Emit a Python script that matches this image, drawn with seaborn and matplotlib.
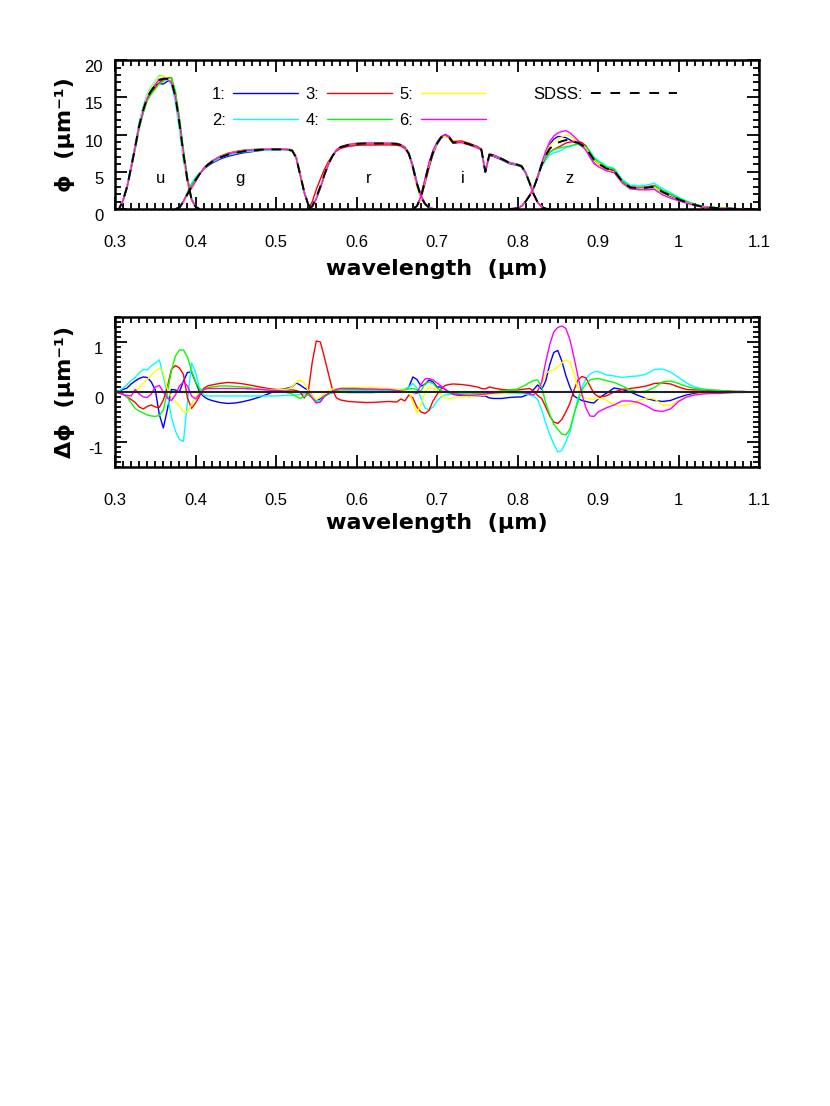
import numpy as np
import pandas as pd
import matplotlib
matplotlib.use("Agg")
import matplotlib.pyplot as plt
import matplotlib.transforms as mtransforms
from matplotlib.lines import Line2D
from matplotlib.ticker import MultipleLocator, FuncFormatter
import seaborn as sns

# sampling wavelengths (micron), shared by every curve
wl = [
    0.300, 0.305, 0.310, 0.315, 0.320, 0.325, 0.330, 0.335, 0.340, 0.345, 0.350, 0.355, 0.360,
    0.365, 0.370, 0.375, 0.380, 0.385, 0.390, 0.395, 0.400, 0.405, 0.410, 0.415, 0.420,
    0.43, 0.44, 0.45, 0.46, 0.47, 0.48, 0.49, 0.50, 0.51,
    0.515, 0.520, 0.525, 0.530, 0.535, 0.540, 0.545, 0.550, 0.555, 0.560, 0.565, 0.570, 0.575, 0.580,
    0.59, 0.60, 0.61, 0.62, 0.63, 0.64, 0.65,
    0.655, 0.660, 0.665, 0.670, 0.675, 0.680, 0.685, 0.690, 0.695, 0.700, 0.705, 0.710, 0.715,
    0.72, 0.73, 0.74, 0.75, 0.755, 0.76, 0.765, 0.77, 0.78, 0.79, 0.80,
    0.805, 0.810, 0.815, 0.820, 0.825, 0.830, 0.835, 0.840, 0.845, 0.850, 0.855, 0.860, 0.865,
    0.870, 0.875, 0.880, 0.885, 0.890, 0.895, 0.900, 0.905, 0.910,
    0.92, 0.93, 0.94, 0.95, 0.96, 0.97, 0.98, 0.99, 1.00, 1.01, 1.02, 1.03, 1.04, 1.05, 1.06,
    1.07, 1.08, 1.09, 1.10,
]

# SDSS filter curves (phi, 1/micron), each over its own wavelength span
band_names = ["u", "g", "r", "i", "z"]
band_lo = [0.300, 0.375, 0.540, 0.670, 0.790]
band_hi = [0.405, 0.550, 0.700, 0.840, 1.100]
sdss_u = [0, 0, 1.2, 3.0, 5.6, 8.3, 11.2, 13.3, 15.0, 15.9, 16.6, 17.3, 17.5, 17.5, 17.2,
          15.1, 11.5, 7.3, 3.8, 1.3, 0.3, 0.0]
sdss_g = [0.0, 0.2, 1.0, 2.0, 3.0, 3.9, 4.7, 5.4, 5.9, 6.3,
          6.9, 7.3, 7.55, 7.75, 7.85, 7.95, 8.0, 8.0, 8.0,
          7.95, 7.85, 6.9, 4.6, 2.3, 0.6, 0.0, 0.0]
sdss_r = [0.0, 0.4, 1.6, 3.0, 4.6, 6.0, 7.1, 7.9, 8.3,
          8.6, 8.75, 8.8, 8.8, 8.8, 8.8, 8.75,
          8.6, 8.3, 7.4, 5.6, 3.4, 1.7, 0.7, 0.2, 0.05, 0.0]
sdss_i = [0.0, 0.4, 1.6, 3.8, 5.9, 7.6, 8.8, 9.6, 9.9, 9.6,
          8.9, 9.0, 8.7, 8.3, 8.0, 5.0, 7.3, 7.2, 6.75, 6.2, 5.95,
          5.75, 4.9, 3.5, 2.0, 0.9, 0.3, 0.05, 0.0]
sdss_z = [0.0, 0.1,
          0.4, 1.0, 1.8, 2.8, 4.3, 6.0, 7.2, 8.1, 8.6, 8.9, 9.1, 9.25, 9.2, 9.05, 8.9, 8.6,
          8.2, 7.4, 6.6, 6.1, 5.8, 5.45,
          5.15, 3.7, 2.9, 2.8, 2.85, 3.0, 2.3, 1.8, 1.3, 0.9, 0.55, 0.3, 0.2, 0.12, 0.07,
          0.04, 0.02, 0.01, 0.0]
band_label_x = [0.356, 0.455, 0.615, 0.732, 0.865]

# differences (model - SDSS) on the wl grid
d1 = [0, 0.02, 0.05, 0.08, 0.16, 0.22, 0.27, 0.3, 0.29, 0.2, 0.04, -0.45, -0.72,
      -0.35, 0.05, 0.04, 0.0, 0.22, 0.39, 0.4, 0.2, 0.0, -0.09, -0.14, -0.17,
      -0.21, -0.23, -0.22, -0.19, -0.15, -0.1, -0.04, 0.03, 0.06,
      0.08, 0.1, 0.18, 0.14, 0.08, 0.04, -0.08, -0.18, -0.14, -0.08, -0.04, -0.01, 0.0, 0.0,
      -0.01, -0.01, -0.01, -0.01, 0.0, 0.0, 0.0,
      0.0, 0.03, 0.1, 0.3, 0.25, 0.12, 0.15, 0.24, 0.2, 0.1, 0.1, 0.05, 0.0,
      -0.05, -0.07, -0.09, -0.08, -0.08, -0.08, -0.12, -0.13, -0.13, -0.11, -0.1,
      -0.1, -0.07, -0.03, 0.05, 0.14, 0.05, 0.22, 0.55, 0.79, 0.83, 0.62, 0.33, 0.1,
      -0.08, -0.13, -0.17, -0.19, -0.21, -0.22, -0.14, -0.08, -0.03,
      0.08, 0.05, 0.0, -0.07, -0.13, -0.17, -0.19, -0.17, -0.11, -0.06, -0.03, -0.01, 0, 0, 0,
      0, 0, 0, 0]
d2 = [0, 0.02, 0.08, 0.15, 0.23, 0.29, 0.38, 0.45, 0.44, 0.52, 0.58, 0.64, 0.31,
      -0.05, -0.5, -0.78, -0.95, -0.99, -0.2, 0.58, 0.4, 0.06, -0.06, -0.08, -0.08,
      -0.08, -0.08, -0.08, -0.08, -0.08, -0.08, -0.08, -0.08, -0.07,
      -0.07, -0.07, -0.06, -0.05, -0.04, -0.03, -0.1, -0.18, -0.17, -0.08, -0.04, -0.02, 0.0, 0.01,
      0.02, 0.03, 0.03, 0.03, 0.03, 0.03, 0.03,
      0.03, 0.05, 0.1, 0.17, 0.08, -0.12, -0.32, -0.36, -0.3, -0.18, -0.1, -0.06, -0.05,
      -0.03, -0.02, -0.01, -0.01, 0.0, -0.02, -0.02, -0.02, -0.03, -0.03, -0.03,
      -0.03, -0.04, -0.06, -0.08, -0.15, -0.36, -0.62, -0.85, -1.04, -1.2, -1.17, -1.0, -0.8,
      -0.46, -0.13, 0.1, 0.27, 0.36, 0.4, 0.41, 0.38, 0.34,
      0.32, 0.29, 0.31, 0.32, 0.36, 0.45, 0.46, 0.4, 0.29, 0.18, 0.1, 0.06, 0.04, 0.02, 0.01,
      0.01, 0, 0, 0]
d3 = [0, -0.02, -0.05, -0.1, -0.15, -0.21, -0.3, -0.34, -0.29, -0.26, -0.3, -0.31, -0.16,
      0.1, 0.45, 0.53, 0.48, 0.35, -0.12, -0.33, -0.22, -0.08, 0.07, 0.12, 0.14,
      0.17, 0.19, 0.18, 0.16, 0.13, 0.1, 0.07, 0.05, 0.05,
      0.04, 0.04, 0.03, 0.0, -0.12, 0.0, 0.6, 1.02, 1.0, 0.7, 0.37, 0.05, -0.12, -0.16,
      -0.19, -0.2, -0.21, -0.21, -0.2, -0.19, -0.2,
      -0.14, -0.18, -0.06, -0.12, -0.3, -0.4, -0.43, -0.37, -0.18, -0.05, 0.06, 0.13, 0.15,
      0.16, 0.15, 0.13, 0.1, 0.07, 0.06, 0.1, 0.08, 0.05, 0.04, 0.04,
      0.05, 0.06, 0.07, 0.02, -0.07, -0.13, -0.3, -0.48, -0.6, -0.63, -0.55, -0.4, -0.23,
      0.03, 0.24, 0.31, 0.28, 0.12, -0.03, -0.09, -0.09, -0.08,
      0.0, 0.05, 0.07, 0.09, 0.12, 0.17, 0.18, 0.16, 0.1, 0.05, 0.04, 0.04, 0.03, 0.03, 0.02,
      0.01, 0.01, 0, 0]
d4 = [0, -0.01, -0.04, -0.1, -0.22, -0.33, -0.38, -0.42, -0.46, -0.48, -0.49, -0.47, -0.36,
      0.0, 0.42, 0.72, 0.84, 0.84, 0.7, 0.42, 0.2, 0.06, 0.04, 0.08, 0.1,
      0.12, 0.12, 0.11, 0.1, 0.08, 0.06, 0.04, 0.02, 0.0,
      -0.02, -0.04, -0.09, -0.13, -0.09, -0.06, -0.12, -0.21, -0.2, -0.1, -0.04, 0.0, 0.03, 0.04,
      0.05, 0.05, 0.05, 0.05, 0.05, 0.05, 0.05,
      0.05, 0.05, 0.06, 0.07, 0.04, 0.02, 0.17, 0.2, 0.17, 0.08, 0.03, 0.0, -0.02,
      -0.03, -0.04, -0.04, -0.03, -0.02, -0.02, -0.01, 0.0, 0.02, 0.04, 0.06,
      0.1, 0.14, 0.19, 0.23, 0.24, 0.1, -0.22, -0.45, -0.64, -0.75, -0.84, -0.86, -0.75,
      -0.45, -0.2, 0.04, 0.16, 0.24, 0.26, 0.27, 0.25, 0.23,
      0.19, 0.12, 0.04, 0.0, 0.02, 0.09, 0.2, 0.22, 0.17, 0.11, 0.07, 0.05, 0.04, 0.03, 0.02,
      0.01, 0.01, 0, 0]
d5 = [0, 0, 0.0, 0.0, 0.01, 0.03, 0.08, 0.17, 0.25, 0.34, 0.42, 0.47, 0.4,
      0.06, -0.1, -0.19, -0.28, -0.4, -0.4, -0.26, -0.08, 0.0, 0.04, 0.05, 0.06,
      0.07, 0.07, 0.07, 0.07, 0.06, 0.05, 0.05, 0.04, 0.05,
      0.06, 0.1, 0.19, 0.24, 0.18, 0.03, -0.08, -0.15, -0.1, -0.02, 0.03, 0.06, 0.07, 0.08,
      0.09, 0.09, 0.09, 0.09, 0.08, 0.07, 0.05,
      0.04, 0.03, 0.0, -0.2, -0.42, -0.25, 0.0, 0.09, 0.07, 0.03, -0.05, -0.12, -0.13,
      -0.11, -0.1, -0.09, -0.08, -0.07, -0.06, -0.05, -0.04, -0.03, -0.02, -0.01,
      0.0, 0.0, 0.0, 0.0, 0.04, 0.17, 0.38, 0.42, 0.44, 0.5, 0.58, 0.64, 0.6,
      0.38, 0.08, -0.09, -0.13, -0.14, -0.15, -0.13, -0.13, -0.16,
      -0.26, -0.28, -0.24, -0.17, -0.12, -0.14, -0.26, -0.27, -0.17, -0.09, -0.05, -0.03, -0.02,
      -0.01, -0.01, 0, 0, 0, 0]
d6 = [0, -0.02, -0.05, -0.07, -0.08, 0.05, -0.04, -0.1, -0.11, -0.04, 0.1, 0.13, 0.0,
      -0.12, -0.17, -0.06, 0.12, 0.2, 0.12, -0.08, -0.14, -0.04, 0.05, 0.07, 0.07,
      0.07, 0.07, 0.07, 0.07, 0.06, 0.05, 0.04, 0.03, 0.02,
      0.01, 0.0, 0.0, 0.0, 0.0, -0.02, -0.12, -0.22, -0.2, -0.08, -0.03, 0.02, 0.05, 0.07,
      0.07, 0.07, 0.06, 0.06, 0.05, 0.05, 0.03,
      0.02, 0.01, 0.0, -0.01, -0.03, 0.15, 0.26, 0.27, 0.24, 0.18, 0.12, 0.05, 0.0,
      -0.04, -0.06, -0.07, -0.06, -0.05, -0.04, -0.03, -0.02, -0.01, 0.0, 0.0,
      0.0, -0.02, -0.04, -0.06, 0.02, 0.2, 0.6, 0.95, 1.2, 1.29, 1.32, 1.27, 1.05,
      0.7, 0.32, -0.05, -0.32, -0.48, -0.49, -0.4, -0.36, -0.32,
      -0.26, -0.18, -0.18, -0.21, -0.28, -0.37, -0.39, -0.34, -0.19, -0.1, -0.06, -0.04, -0.03,
      -0.03, -0.02, -0.01, -0.01, 0, 0]

models = ["1", "2", "3", "4", "5", "6"]
model_colors = ["#0000ff", "#00ffff", "#ff0000", "#00ff00", "#ffff00", "#ff00ff"]

# ---- build long tables ----
wl_arr = np.array(wl)
dphi = np.array([d1, d2, d3, d4, d5, d6])
assert dphi.shape == (6, len(wl))
band_phi = [sdss_u, sdss_g, sdss_r, sdss_i, sdss_z]

band_idx = []
total = np.zeros(len(wl))
for lo, hi, vals in zip(band_lo, band_hi, band_phi):
    idx = np.where((wl_arr > lo - 1e-6) & (wl_arr < hi + 1e-6))[0]
    assert len(idx) == len(vals), (lo, len(idx), len(vals))
    band_idx.append(idx)
    total[idx] += np.array(vals)

sdss_rows, model_rows = [], []
for name, idx, vals in zip(band_names, band_idx, band_phi):
    vals = np.array(vals, dtype=float)
    # split the difference between overlapping bands by their share of the total
    share = np.divide(vals, total[idx], out=np.zeros_like(vals), where=total[idx] > 0)
    sdss_rows.append(pd.DataFrame({"wl": wl_arr[idx], "phi": vals, "band": name}))
    for k, m in enumerate(models):
        model_rows.append(pd.DataFrame({"wl": wl_arr[idx], "phi": vals + dphi[k, idx] * share,
                                        "band": name, "model": m}))
sdss_df = pd.concat(sdss_rows, ignore_index=True)
top_df = pd.concat(model_rows, ignore_index=True)
diff_df = pd.concat([pd.DataFrame({"wl": wl_arr, "dphi": dphi[k], "model": m})
                     for k, m in enumerate(models)], ignore_index=True)

# ---- style ----
sns.set_theme(style="ticks")
plt.rcParams["font.family"] = ["Liberation Sans", "DejaVu Sans"]
plt.rcParams["axes.unicode_minus"] = False
plt.rcParams["text.color"] = "black"
plt.rcParams["axes.labelcolor"] = "black"
plt.rcParams["xtick.color"] = "black"
plt.rcParams["ytick.color"] = "black"
palette = dict(zip(models, model_colors))
label_kw = dict(fontfamily="DejaVu Sans", fontweight="bold", fontsize=16, color="black")

fig = plt.figure(figsize=(8.3, 11.06), dpi=100, facecolor="white")
ax1 = fig.add_axes([0.1386, 0.8110, 0.7759, 0.1347])
ax2 = fig.add_axes([0.1386, 0.5778, 0.7759, 0.1356])

# top panel: filter curves
sns.lineplot(data=top_df, x="wl", y="phi", hue="model", units="band", estimator=None,
             palette=palette, hue_order=models, lw=1.0, sort=False, legend=False, ax=ax1)
n0 = len(ax1.lines)
sns.lineplot(data=sdss_df, x="wl", y="phi", units="band", estimator=None, color="black",
             lw=1.4, sort=False, legend=False, ax=ax1)
for line in ax1.lines[n0:]:
    line.set_linestyle((0, (5, 4)))

for name, x in zip(band_names, band_label_x):
    ax1.text(x, 3.45, name, ha="center", va="baseline", fontsize=12, color="black")

# bottom panel: differences
sns.lineplot(data=diff_df, x="wl", y="dphi", hue="model", estimator=None, palette=palette,
             hue_order=models, lw=1.0, sort=False, legend=False, ax=ax2)
ax2.axhline(0, color="#222222", lw=1.5, zorder=5)

ax1.set_ylim(0, 20)
ax1.set_yticks([0, 5, 10, 15, 20])
ax1.yaxis.set_minor_locator(MultipleLocator(1))
ax2.set_ylim(-1.5, 1.5)
ax2.set_yticks([-1, 0, 1])
ax2.yaxis.set_minor_locator(MultipleLocator(0.1))

for ax in (ax1, ax2):
    ax.set_xlim(0.3, 1.1)
    ax.set_xticks([0.3, 0.4, 0.5, 0.6, 0.7, 0.8, 0.9, 1.0, 1.1])
    ax.xaxis.set_minor_locator(MultipleLocator(0.01))
    ax.xaxis.set_major_formatter(FuncFormatter(lambda v, p: f"{v:g}"))
    ax.tick_params(which="both", direction="in", top=True, right=True, width=1.3,
                   colors="black", labelsize=12)
    ax.tick_params(which="major", length=8.6)
    ax.tick_params(which="minor", length=4.3)
    ax.tick_params(axis="x", pad=18.5)
    ax.tick_params(axis="y", pad=8.5)
    for sp in ax.spines.values():
        sp.set_linewidth(1.8)
        sp.set_color("black")
    offset = mtransforms.ScaledTranslation(0, -6 / 100, fig.dpi_scale_trans)
    for tick in ax.yaxis.get_major_ticks():
        tick.label1.set_transform(tick.label1.get_transform() + offset)

ax1.set_xlabel("wavelength  (μm)", va="center", **label_kw)
ax1.xaxis.set_label_coords(0.5, -0.40)
ax1.set_ylabel("ϕ  (μm⁻¹)", va="center", **label_kw)
ax1.yaxis.set_label_coords(-0.078, 0.5)
ax2.set_xlabel("wavelength  (μm)", va="center", **label_kw)
ax2.xaxis.set_label_coords(0.5, -0.375)
ax2.set_ylabel("Δϕ  (μm⁻¹)", va="center", **label_kw)
ax2.yaxis.set_label_coords(-0.078, 0.5)

# legends
handles = [Line2D([], [], color=c, lw=1.0) for c in model_colors]
leg1 = ax1.legend(handles, [m + ":" for m in models], ncol=3, loc="upper left",
                  bbox_to_anchor=(0.150, 0.82), frameon=False, markerfirst=False,
                  handlelength=3.9, handletextpad=0.45, columnspacing=0.45,
                  labelspacing=0.68, borderpad=0, borderaxespad=0, fontsize=12,
                  labelcolor="black")
ax1.add_artist(leg1)
ax1.legend([Line2D([], [], color="black", lw=1.4, ls=(0, (5, 5)))], ["SDSS:"],
           loc="upper left", bbox_to_anchor=(0.650, 0.82), frameon=False, markerfirst=False,
           handlelength=5.2, handletextpad=0.45, borderpad=0, borderaxespad=0, fontsize=12,
           labelcolor="black")

fig.savefig("out.png", dpi=100, facecolor="white")
